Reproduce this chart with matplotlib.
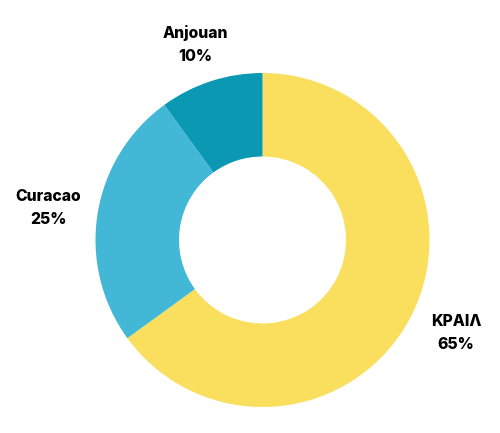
import numpy as np
import matplotlib.pyplot as plt

labels = ['ΚΡΑΙΛ', 'Curacao', 'Anjouan']
values = [65, 25, 10]
colors = ['#FADF5E', '#42B7D6', '#0B98B3']

fig = plt.figure(figsize=(5, 4.33), dpi=100)
r_px = 167
cx, cy = 262.5, 433 - 240
ax = fig.add_axes([(cx - r_px) / 500, (cy - r_px) / 433, 2 * r_px / 500, 2 * r_px / 433])

wedges, _ = ax.pie(values, colors=colors, startangle=90, counterclock=False,
                   wedgeprops=dict(width=0.5, linewidth=0))

for w, name, v in zip(wedges, labels, values):
    ang = np.deg2rad((w.theta1 + w.theta2) / 2)
    x, y = 1.30 * np.cos(ang), 1.23 * np.sin(ang)
    ax.text(x, y, f'{name}\n{v}%', ha='center', va='center', fontsize=11.3,
            fontweight='heavy', family=['Inter', 'DejaVu Sans'], linespacing=1.7)

ax.set_xlim(-1, 1)
ax.set_ylim(-1, 1)
ax.set_aspect('equal')
ax.axis('off')
fig.savefig('out.png', dpi=100)
